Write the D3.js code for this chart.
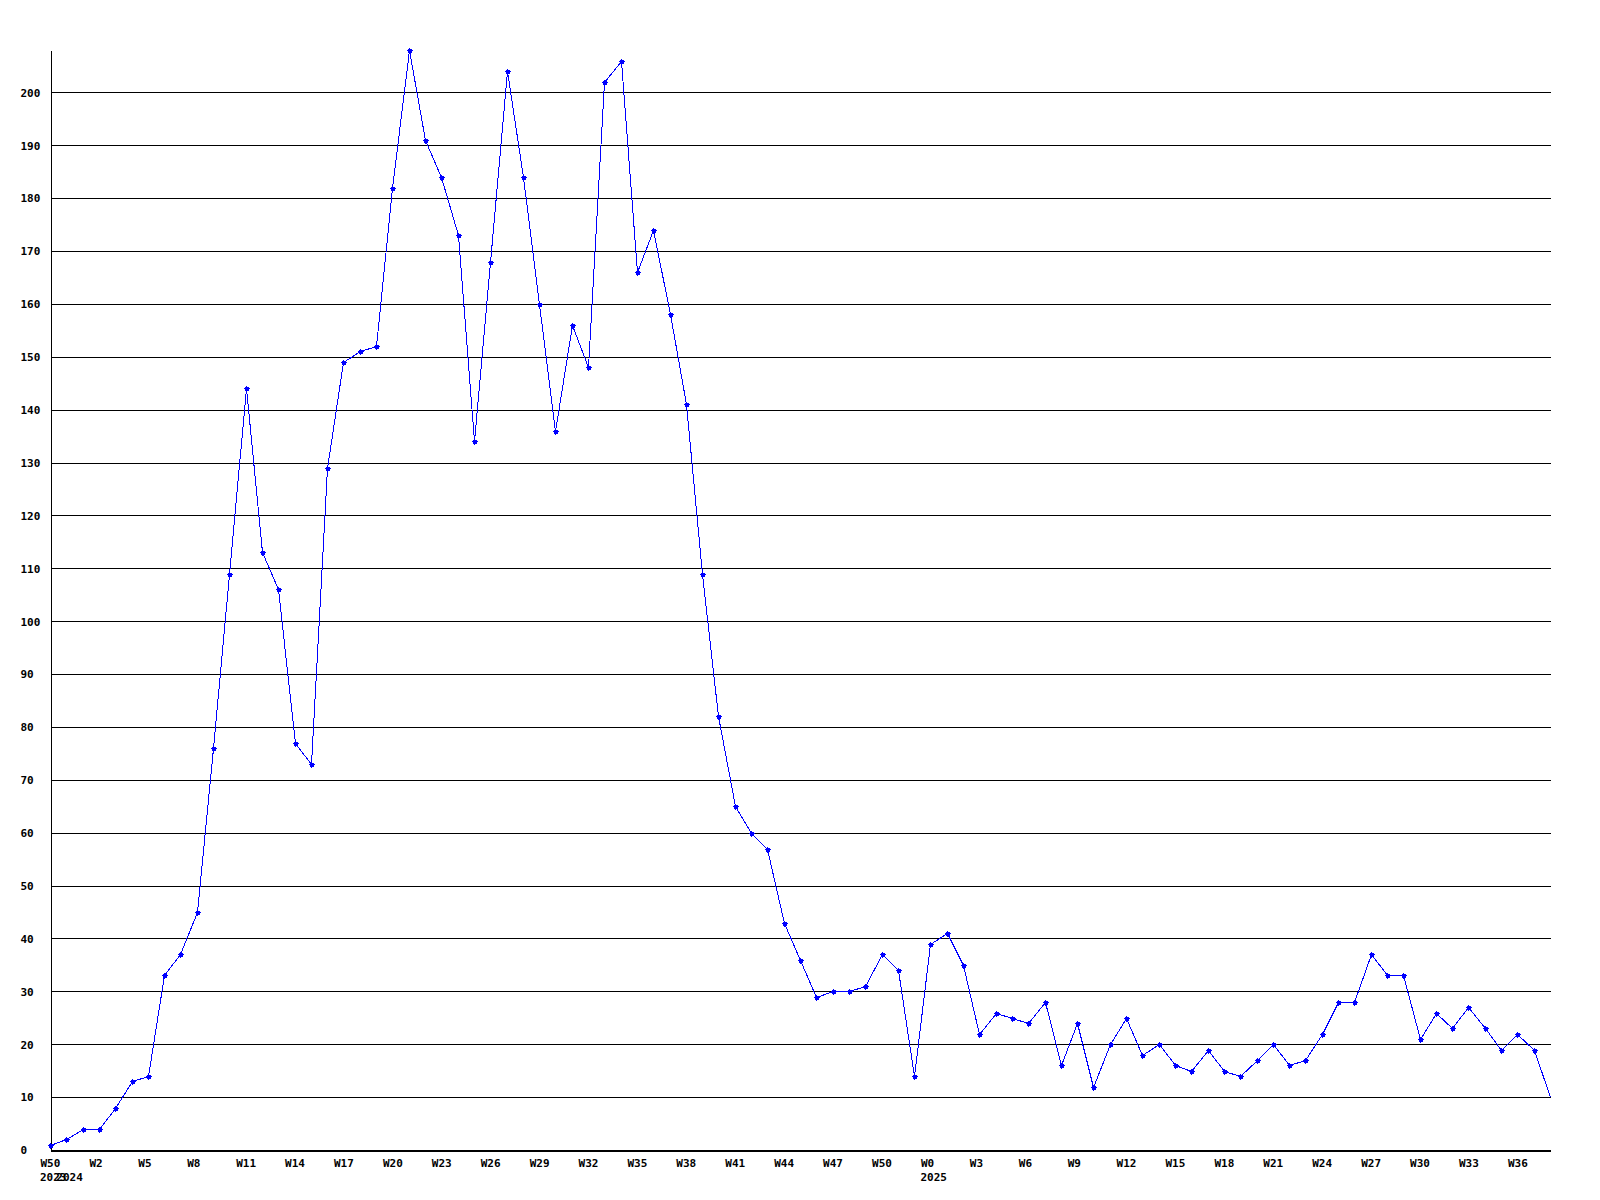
<!DOCTYPE html>
<html>
<head>
<meta charset="utf-8">
<script src="https://cdn.jsdelivr.net/npm/d3@7"></script>
<style>
  body { margin: 0; background: #fff; }
  text { font-family: "DejaVu Sans Mono", monospace; font-weight: bold; font-size: 11px; fill: #000; }
</style>
</head>
<body>
<svg id="chart"></svg>
<script>
// weekly counts, W50 2023 .. W38 2025
const counts = [1, 2, 4, 4, 8, 13, 14, 33, 37, 45,
  76, 109, 144, 113, 106, 77, 73, 129, 149, 151,
  152, 182, 208, 191, 184, 173, 134, 168, 204, 184,
  160, 136, 156, 148, 202, 206, 166, 174, 158, 141,
  109, 82, 65, 60, 57, 43, 36, 29, 30, 30,
  31, 37, 34, 14, 39, 41, 35, 22, 26, 25,
  24, 28, 16, 24, 12, 20, 25, 18, 20, 16,
  15, 19, 15, 14, 17, 20, 16, 17, 22, 28,
  28, 37, 33, 33, 21, 26, 23, 27, 23, 19,
  22, 19, 10];

const weekLabels = ['W50', 'W2', 'W5', 'W8', 'W11', 'W14', 'W17', 'W20', 'W23', 'W26',
  'W29', 'W32', 'W35', 'W38', 'W41', 'W44', 'W47', 'W50', 'W0', 'W3',
  'W6', 'W9', 'W12', 'W15', 'W18', 'W21', 'W24', 'W27', 'W30', 'W33', 'W36'];
const yearLabels = ['2023', '2024', '2025'];
const yearIdx = [0, 1, 54];
const yTicks = d3.range(0, 201, 10);

const width = 1600;
const height = 1200;

const svg = d3.select('#chart')
  .attr('width', width)
  .attr('height', height);

const x = d3.scaleLinear()
  .domain([0, counts.length - 1])
  .range([50, 1550]);

const y = d3.scaleLinear()
  .domain([0, d3.max(counts)])
  .range([1150, 50]);

// y axis + grid
const yAxis = d3.axisLeft(y)
  .tickValues(yTicks)
  .tickSize(-1500)
  .tickSizeOuter(0)
  .tickFormat((d) => d);

const gy = svg.append('g')
  .attr('transform', 'translate(50.5,0)')
  .call(yAxis);
gy.select('.domain').attr('stroke', '#000').attr('shape-rendering', 'crispEdges');
gy.selectAll('.tick line').attr('stroke', '#000').attr('shape-rendering', 'crispEdges');
gy.selectAll('.tick text')
  .attr('x', -30)
  .attr('dy', '0.35em')
  .attr('text-anchor', 'start')
  .style('font-size', null)
  .style('font-family', null);
gy.attr('font-size', null).attr('font-family', null);

// x axis
const tickIdx = d3.range(0, counts.length, 3);
const xAxis = d3.axisBottom(x)
  .tickValues(tickIdx)
  .tickSize(0)
  .tickSizeOuter(0)
  .tickFormat((d, i) => weekLabels[i]);

const gx = svg.append('g')
  .attr('transform', 'translate(0,1150.5)')
  .call(xAxis);
gx.attr('font-size', null).attr('font-family', null);
gx.select('.domain').attr('stroke', '#000').attr('shape-rendering', 'crispEdges');
gx.selectAll('.tick text')
  .attr('x', -10)
  .attr('y', 16)
  .attr('dy', null)
  .attr('text-anchor', 'start');

svg.append('g')
  .selectAll('text')
  .data(yearLabels)
  .enter()
  .append('text')
  .attr('x', (d, i) => x(yearIdx[i]) - 10)
  .attr('y', 1181)
  .text((d) => d);

// line
const line = d3.line()
  .x((d, i) => Math.round(x(i)) + 0.5)
  .y((d) => Math.round(y(d)) + 0.5);

svg.append('path')
  .datum(counts)
  .attr('fill', 'none')
  .attr('stroke', '#0000ff')
  .attr('stroke-width', 1)
  .attr('shape-rendering', 'crispEdges')
  .attr('d', line);

// markers (none on the last point)
const marker = 'M-2.5,-0.5h6v1h-6z M-0.5,-2.5h1v6h-1z M-1.5,-1.5h4v4h-4z';
svg.append('g')
  .selectAll('path')
  .data(counts.slice(0, -1))
  .enter()
  .append('path')
  .attr('d', marker)
  .attr('fill', '#0000ff')
  .attr('shape-rendering', 'crispEdges')
  .attr('transform', (d, i) => `translate(${Math.round(x(i))},${Math.round(y(d))})`);
</script>
</body>
</html>
